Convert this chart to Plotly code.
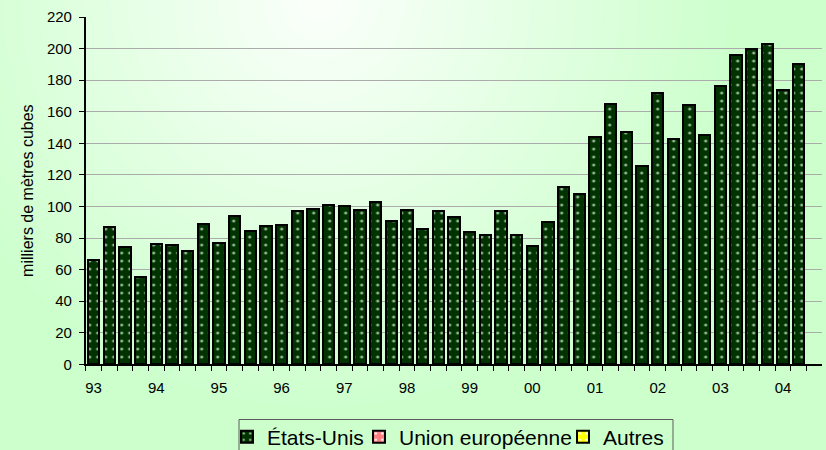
import numpy as np
import plotly.graph_objects as go

# Quarterly exports, thousands of cubic metres
years = ["93", "94", "95", "96", "97", "98", "99", "00", "01", "02", "03", "04"]
us_exports = [
    66, 87, 74, 55,
    76, 75.5, 72, 89,
    77, 94, 84.5, 87.5,
    88, 97, 98.5, 101,
    100, 97.5, 102.5, 91,
    97.5, 85.5, 97, 93,
    84, 82, 97, 82,
    75, 90, 112, 108,
    144, 165, 147, 125.5,
    172, 142.5, 164, 145.5,
    176, 196, 200, 203,
    174, 190, None,
]
eu_exports = [
    0, 0, 0, 0,
    0, 0, 0, 0,
    0, 0, 0, 0,
    0, 0, 0, 0,
    0, 0, 0, 0,
    0, 0, 0, 0,
    0, 0, 0, 0,
    0, 0, 0, 0,
    0, 0, 0, 0,
    0, 0, 0, 0,
    0, 0, 0, 0,
    0, 0, None,
]
other_exports = [
    0, 0, 0, 0,
    0, 0, 0, 0,
    0, 0, 0, 0,
    0, 0, 0, 0,
    0, 0, 0, 0,
    0, 0, 0, 0,
    0, 0, 0, 0,
    0, 0, 0, 0,
    0, 0, 0, 0,
    0, 0, 0, 0,
    0, 0, 0, 0,
    0, 0, None,
]

quarters = [f"{yr} T{q}" for yr in years for q in range(1, 5)][: len(us_exports)]
tick_text = [lab.split(" ")[0] if lab.endswith("T1") else "" for lab in quarters]

W, H = 826, 450
FONT = "Liberation Sans, Arial, sans-serif"

# soft radial backdrop: pale near the top, light green towards the edges
gx = np.linspace(0, W, 120)
gy = np.linspace(0, H, 70)
XX, YY = np.meshgrid(gx, gy)
dist = np.sqrt((XX - 320) ** 2 + (YY - 0) ** 2) / 420
shade = np.clip(dist, 0, 1)

fig = go.Figure()
fig.add_trace(go.Heatmap(
    x=gx, y=H - gy, z=shade, zmin=0, zmax=1, zsmooth="best",
    colorscale=[[0, "#fbfffb"], [1, "#ccffcc"]], showscale=False,
    hoverinfo="skip", xaxis="x", yaxis="y", showlegend=False,
))

# name, values, fill, dot colour, legend entry width
series = [
    ("États-Unis", us_exports, "#003300", "#94b894", 87),
    ("Union européenne", eu_exports, "#ff8080", "#ffffff", 159),
    ("Autres", other_exports, "#ffff00", "#ffffff", 62),
]
for name, values, fill, dots, lw in series:
    fig.add_trace(go.Bar(
        name=name, x=quarters, y=values, xaxis="x2", yaxis="y2",
        legendwidth=lw,
        marker=dict(color=fill, line=dict(color="#000000", width=2),
                    pattern=dict(shape=".", fgcolor=dots, bgcolor=fill,
                                 size=8, solidity=0.12)),
    ))

x0, x1 = 85.7, 822.3
y_top, y_bot = 17.0, 364.3

fig.update_layout(
    template="none",
    width=W, height=H,
    margin=dict(l=0, r=0, t=0, b=0, autoexpand=False),
    paper_bgcolor="#ccffcc",
    plot_bgcolor="rgba(0,0,0,0)",
    barmode="stack",
    bargap=0.28,
    font=dict(family=FONT, size=15, color="#000000"),
    showlegend=True,
    xaxis=dict(domain=[0, 1], range=[0, W], visible=False, fixedrange=True,
               automargin=False),
    yaxis=dict(domain=[0, 1], range=[0, H], visible=False, fixedrange=True,
               automargin=False),
    xaxis2=dict(
        domain=[x0 / W, x1 / W], anchor="y2", type="category",
        categoryorder="array", categoryarray=quarters,
        range=[-0.5, len(quarters) - 0.5], automargin=False,
        tickvals=quarters, ticktext=tick_text, tickson="boundaries",
        tickangle=0,
        ticks="outside", ticklen=5, tickwidth=1, tickcolor="#000000",
        ticklabelstandoff=9,
        showline=True, linecolor="#000000", linewidth=1.5,
        showgrid=False, zeroline=False,
        tickfont=dict(size=15),
    ),
    yaxis2=dict(
        domain=[1 - y_bot / H, 1 - y_top / H], anchor="x2", automargin=False,
        range=[0, 220], dtick=20, tick0=0,
        ticks="outside", ticklen=5, tickwidth=1, tickcolor="#000000",
        ticklabelstandoff=4,
        showline=True, linecolor="#000000", linewidth=1.5,
        showgrid=True, gridcolor="#ababab", gridwidth=1,
        zeroline=False,
        tickfont=dict(size=15),
        title=dict(text="milliers de mètres cubes", font=dict(size=16), standoff=9),
    ),
    legend=dict(
        orientation="h", x=227 / W, y=1 - 416.5 / H, xanchor="left", yanchor="top",
        borderwidth=0, bgcolor="rgba(0,0,0,0)",
        font=dict(size=21, color="#000000"), traceorder="normal",
    ),
    shapes=[dict(
        type="rect", xref="paper", yref="paper",
        x0=239 / W, x1=673 / W, y0=1 - 456 / H, y1=1 - 419.5 / H,
        line=dict(color="#5a5a5a", width=1), fillcolor="rgba(0,0,0,0)",
    )],
)

fig.write_html("out.html")
